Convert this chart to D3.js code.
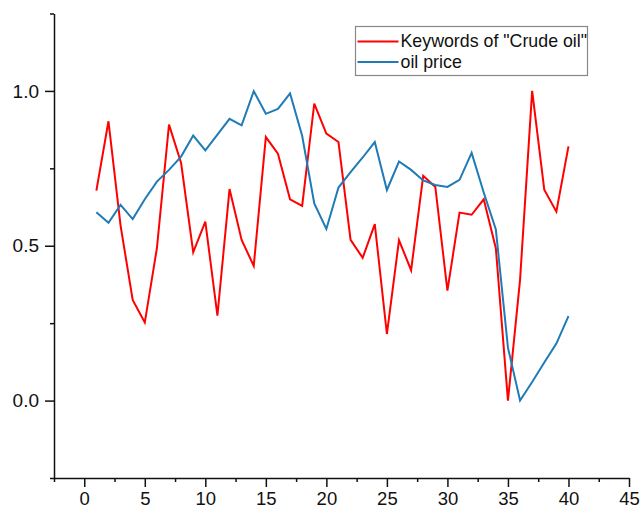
<!DOCTYPE html>
<html>
<head>
<meta charset="utf-8">
<script src="https://cdn.jsdelivr.net/npm/d3@7"></script>
<style>
  html, body { margin: 0; padding: 0; background: #fff; }
  #chart { width: 641px; height: 510px; }
  text { font-family: "Liberation Sans", Arial, sans-serif; fill: #111; }
</style>
</head>
<body>
<div id="chart"></div>
<script>
//Datos
let months = d3.range(1, 41);
let keywords = [0.678, 0.902, 0.565, 0.325, 0.252, 0.492, 0.891, 0.767, 0.479, 0.578,
                0.274, 0.683, 0.519, 0.435, 0.851, 0.797, 0.650, 0.629, 0.959, 0.862,
                0.835, 0.519, 0.461, 0.570, 0.215, 0.518, 0.421, 0.726, 0.690, 0.355,
                0.607, 0.600, 0.650, 0.492, 0.000, 0.390, 1.000, 0.681, 0.610, 0.821];
let oilPrice = [0.608, 0.574, 0.632, 0.586, 0.650, 0.707, 0.745, 0.788, 0.856, 0.808,
                0.859, 0.910, 0.889, 0.999, 0.926, 0.942, 0.992, 0.855, 0.637, 0.554,
                0.688, 0.738, 0.785, 0.835, 0.680, 0.772, 0.745, 0.711, 0.696, 0.690,
                0.713, 0.800, 0.672, 0.553, 0.171, 0.000, 0.060, 0.123, 0.184, 0.273];
let seriesNames = ['Keywords of "Crude oil"', 'oil price'];
let seriesColors = ['#ff0000', '#1f7bb6'];
let xTicks = d3.range(0, 46, 5);
let yTicks = [0.0, 0.5, 1.0];

let chartBlock = d3.select('#chart');
let margin = {top: 13.5, right: 12, bottom: 32, left: 54};
let width = 641 - margin.left - margin.right,
    height = 510 - margin.top - margin.bottom;

let svg = chartBlock.append('svg')
    .attr('width', 641)
    .attr('height', 510);
let chart = svg.append('g')
    .attr('transform', 'translate(' + margin.left + ',' + margin.top + ')');

//Escalas
let x = d3.scaleLinear().domain([-2.5, 45]).range([0, width]);
let y = d3.scaleLinear().domain([-0.25, 1.25]).range([height, 0]);

//Eje X
let xMinor = chart.append('g')
    .attr('transform', 'translate(0,' + height + ')')
    .call(d3.axisBottom(x).tickValues(d3.range(-2.5, 45.1, 5)).tickSize(4).tickFormat(''));
xMinor.select('.domain').remove();

let xAxis = chart.append('g')
    .attr('transform', 'translate(0,' + height + ')')
    .call(d3.axisBottom(x).tickValues(xTicks).tickSize(9).tickPadding(5).tickSizeOuter(0));
xAxis.selectAll('text').style('font-size', '18.5px');

//Eje Y
let yMinor = chart.append('g')
    .call(d3.axisLeft(y).tickValues([-0.25, 0.25, 0.75, 1.25]).tickSize(4).tickFormat(''));
yMinor.select('.domain').remove();

let yAxis = chart.append('g')
    .call(d3.axisLeft(y).tickValues(yTicks).tickSize(9).tickPadding(6).tickSizeOuter(0)
        .tickFormat(d3.format('.1f')));
yAxis.selectAll('text').style('font-size', '19px');

chart.selectAll('.domain, .tick line')
    .attr('stroke', '#111')
    .attr('stroke-width', 1.5);

//Líneas
let series = [keywords, oilPrice];
let line = d3.line()
    .x(function(d, i) { return x(months[i]); })
    .y(function(d) { return y(d); });

chart.selectAll('.serie')
    .data(series)
    .enter()
    .append('path')
    .attr('class', 'serie')
    .attr('fill', 'none')
    .attr('stroke', function(d, i) { return seriesColors[i]; })
    .attr('stroke-width', 2)
    .attr('stroke-linejoin', 'miter')
    .attr('d', line);

//Leyenda
let legend = svg.append('g').attr('transform', 'translate(355.5,26.5)');
legend.append('rect')
    .attr('width', 232)
    .attr('height', 49)
    .attr('fill', '#fff')
    .attr('stroke', '#888')
    .attr('stroke-width', 1.2);

seriesNames.forEach(function(name, i) {
    let row = legend.append('g').attr('transform', 'translate(0,' + (15 + i * 20.5) + ')');
    row.append('line')
        .attr('x1', 2).attr('x2', 43)
        .attr('stroke', seriesColors[i])
        .attr('stroke-width', 2);
    row.append('text')
        .attr('x', 45)
        .attr('y', 5.5)
        .style('font-size', '17.8px')
        .text(name);
});
</script>
</body>
</html>
